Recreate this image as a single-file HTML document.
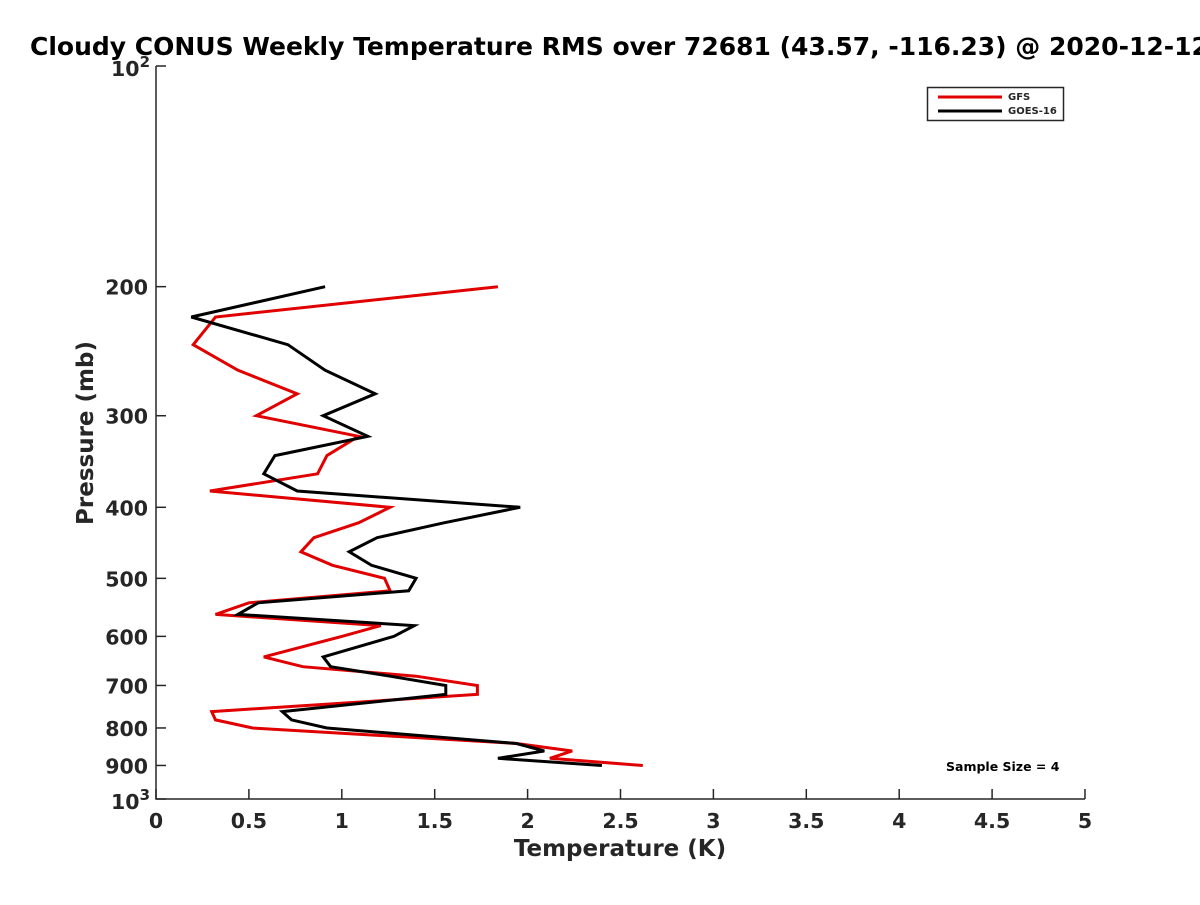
<!DOCTYPE html>
<html><head><meta charset="utf-8"><style>
html,body{margin:0;padding:0;background:#fff;}
svg text{font-family:"DejaVu Sans","Liberation Sans",sans-serif;font-weight:bold;fill:#262626;}
</style></head><body>
<svg id="chart" width="1200" height="900" viewBox="0 0 1200 900">
<text x="30" y="55" font-size="25" fill="#000" style="fill:#000">Cloudy CONUS Weekly Temperature RMS over 72681 (43.57, -116.23) @ 2020-12-12</text>
<g id="axes"></g>
<g id="series"></g>
<text x="620" y="856" font-size="23" text-anchor="middle">Temperature (K)</text>
<text transform="translate(93,433) rotate(-90)" font-size="23" text-anchor="middle">Pressure (mb)</text>
<g>
<rect x="927.5" y="87.5" width="136" height="33" fill="#fff" stroke="#262626" stroke-width="1.5"/>
<line x1="938" y1="97" x2="1002" y2="97" stroke="#e00000" stroke-width="3"/>
<text x="1008" y="100" font-size="10">GFS</text>
<line x1="938" y1="111" x2="1002" y2="111" stroke="#000" stroke-width="3"/>
<text x="1008" y="114" font-size="10">GOES-16</text>
</g>
<text x="946" y="771" font-size="12.5" fill="#000" style="fill:#000">Sample Size = 4</text>
</svg>
<script>
const levels = [200,220,240,260,280,300,320,340,360,380,400,420,440,460,480,500,520,540,560,580,600,640,660,680,700,720,760,780,800,840,860,880,900];
const gfsValues = [1.84,0.32,0.20,0.44,0.76,0.54,1.09,0.92,0.87,0.29,1.26,1.09,0.85,0.78,0.95,1.23,1.26,0.50,0.32,1.21,1.00,0.58,0.79,1.40,1.73,1.73,0.30,0.32,0.52,1.94,2.24,2.12,2.62];
const goesValues = [0.91,0.19,0.71,0.91,1.18,0.90,1.14,0.64,0.58,0.76,1.96,1.55,1.19,1.04,1.16,1.40,1.36,0.55,0.44,1.39,1.28,0.90,0.94,1.26,1.56,1.56,0.68,0.73,0.92,1.94,2.09,1.84,2.40];
const xTicks = [0,0.5,1,1.5,2,2.5,3,3.5,4,4.5,5];
const xTickLabels = ["0","0.5","1","1.5","2","2.5","3","3.5","4","4.5","5"];
const yTicks = [200,300,400,500,600,700,800,900];
const yTickLabels = ["200","300","400","500","600","700","800","900"];

const NS='http://www.w3.org/2000/svg';
const X0=156,X1=1085,Y0=66,Y1=799;
function xs(v){return X0+(v-0)/(5-0)*(X1-X0);}
function ys(p){return Y0+(Math.log10(p)-2)*(Y1-Y0);}
function mk(tag,attrs,parent){const e=document.createElementNS(NS,tag);for(const k in attrs)e.setAttribute(k,attrs[k]);parent.appendChild(e);return e;}
const axes=document.getElementById('axes');
const series=document.getElementById('series');
let el=mk('path',{d:`M${X0},${Y0} L${X0},${Y1} L${X1},${Y1}`,fill:'none',stroke:'#262626','stroke-width':1.5},axes);


xTicks.forEach((t,i)=>{
  const x=xs(t);
  let tk=mk('line',{x1:x,y1:Y1,x2:x,y2:Y1-10,stroke:'#262626','stroke-width':1.5},axes);
  
  
  let lb=mk('text',{x:x,y:Y1+29,'font-size':20.5,'text-anchor':'middle'},axes);
  lb.textContent=xTickLabels[i];
  
  
});
yTicks.forEach((t,i)=>{
  const y=ys(t);
  let tk=mk('line',{x1:X0,y1:y,x2:X0+10,y2:y,stroke:'#262626','stroke-width':1.5},axes);
  
  
  let lb=mk('text',{x:X0-8,y:y+8,'font-size':20.5,'text-anchor':'end'},axes);
  lb.textContent=yTickLabels[i];
  
  
});
[[100,'2'],[1000,'3']].forEach(([p,e])=>{
  const y=ys(p);
  let tk=mk('line',{x1:X0,y1:y,x2:X0+10,y2:y,stroke:'#262626','stroke-width':1.5},axes);
  
  
  let lb=mk('text',{x:X0-6,y:y+10,'font-size':20.5,'text-anchor':'end'},axes);
  
  
  lb.innerHTML='10<tspan dy="-9" font-size="15">'+e+'</tspan>';
});
function drawLine(vals,color,name){
  const d=vals.map((v,i)=>(i?'L':'M')+xs(v).toFixed(1)+','+ys(levels[i]).toFixed(1)).join(' ');
  const p=mk('path',{d:d,fill:'none',stroke:color,'stroke-width':3,'stroke-linejoin':'miter'},series);
  
  
}
drawLine(gfsValues,'#e00000','gfs-line');
drawLine(goesValues,'#000000','goes16-line');
</script>
</body></html>
